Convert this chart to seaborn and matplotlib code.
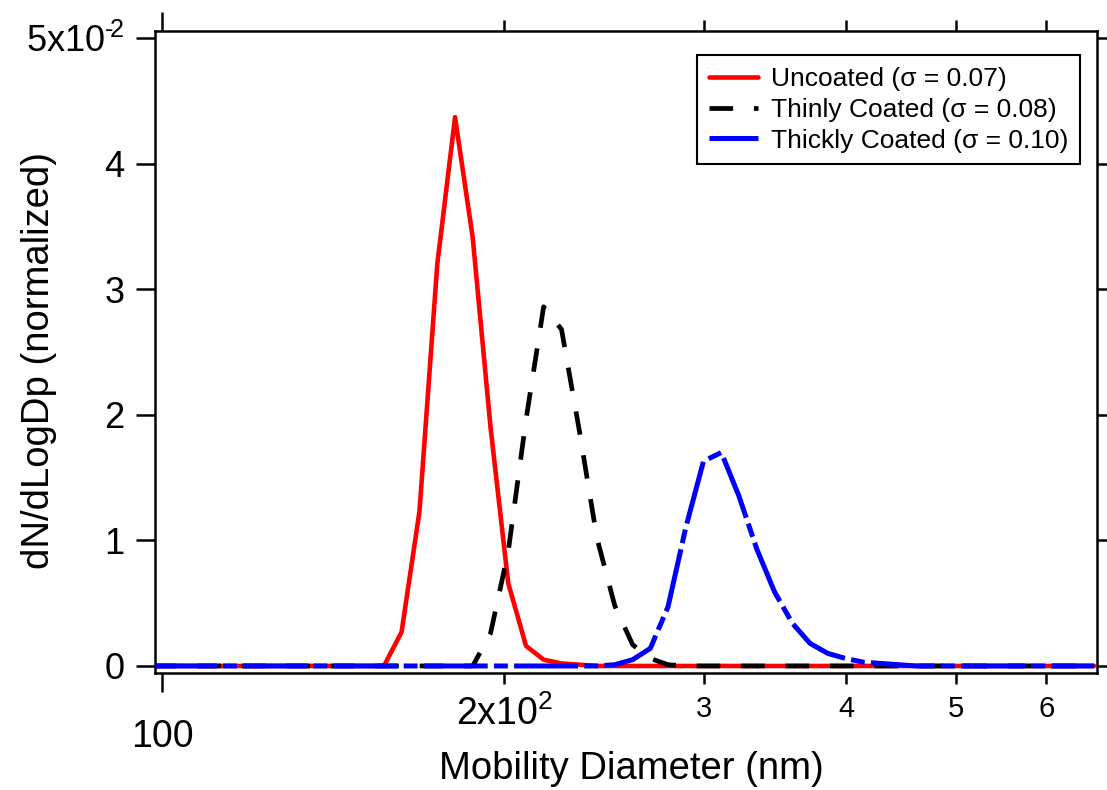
import matplotlib
matplotlib.use("Agg")
import matplotlib.pyplot as plt
import pandas as pd
import seaborn as sns
from matplotlib.ticker import FixedLocator, FixedFormatter

# ---------------- data ----------------
diameter_nm = [98.2, 101.8, 105.5, 109.4, 113.4, 117.6, 121.9, 126.3, 131.0, 135.8,
               140.7, 145.9, 151.2, 156.8, 162.5, 168.5, 174.7, 181.1, 187.7, 194.6,
               201.7, 209.1, 216.7, 224.7, 232.9, 241.4, 250.3, 259.5, 269.0, 278.8,
               289.0, 299.6, 310.6, 322.0, 333.8, 346.0, 358.7, 371.8, 385.4, 399.5,
               414.2, 429.4, 445.1, 461.4, 478.3, 495.8, 514.0, 532.8, 552.3, 572.5,
               593.5, 615.3, 637.8, 661.2]

uncoated = [0, 0, 0, 0, 0, 0, 0, 0, 0, 0,
            0, 0, 0, 0.0, 0.0027, 0.0123, 0.0320, 0.0437, 0.0341, 0.0190,
            0.0066, 0.0016, 0.0005, 0.0002, 0.0001, 0, 0, 0, 0, 0,
            0, 0, 0, 0, 0, 0, 0, 0, 0, 0,
            0, 0, 0, 0, 0, 0, 0, 0, 0, 0,
            0, 0, 0, 0]

thinly_coated = [0, 0, 0, 0, 0, 0, 0, 0, 0, 0,
                 0, 0, 0, 0, 0, 0, 0, 0, 0.0, 0.0026,
                 0.0091, 0.0196, 0.0286, 0.0268, 0.0188, 0.0102, 0.0048, 0.0017, 0.0006, 0.0001,
                 0, 0, 0, 0, 0, 0, 0, 0, 0, 0,
                 0, 0, 0, 0, 0, 0, 0, 0, 0, 0,
                 0, 0, 0, 0]

thickly_coated = [0, 0, 0, 0, 0, 0, 0, 0, 0, 0,
                  0, 0, 0, 0, 0, 0, 0, 0, 0, 0,
                  0, 0, 0, 0, 0, 0, 0.0001, 0.0005, 0.0014, 0.0047,
                  0.0110, 0.0163, 0.0170, 0.0135, 0.0093, 0.0059, 0.0034, 0.0018, 0.0010, 0.0006,
                  0.0003, 0.0002, 0.0001, 0, 0, 0, 0, 0, 0, 0,
                  0, 0, 0, 0]

series_labels = ["Uncoated (\u03c3 = 0.07)",
                 "Thinly Coated (\u03c3 = 0.08)",
                 "Thickly Coated (\u03c3 = 0.10)"]

y_ticks = [0.0, 0.01, 0.02, 0.03, 0.04, 0.05]
y_tick_labels = ["0", "1", "2", "3", "4", "5x10$^{\u2010\\!2}$"]
x_major_ticks = [100]
x_major_labels = ["100"]
x_minor_ticks = [200, 300, 400, 500, 600]
x_minor_labels = [r"2x10$^{2}$", "3", "4", "5", "6"]

# ---------------- style ----------------
sns.set_style("ticks")
plt.rcParams["font.family"] = ["Liberation Sans", "DejaVu Sans"]
plt.rcParams["mathtext.fontset"] = "custom"
plt.rcParams["mathtext.rm"] = "Liberation Sans"
plt.rcParams["mathtext.it"] = "Liberation Sans:italic"
plt.rcParams["mathtext.bf"] = "Liberation Sans:bold"
plt.rcParams["lines.scale_dashes"] = False
plt.rcParams["text.color"] = "black"
plt.rcParams["axes.labelcolor"] = "black"

fig = plt.figure(figsize=(11.07, 7.90), dpi=100)
ax = fig.add_axes([155 / 1107, 117 / 790, 942 / 1107, 642 / 790])

df = pd.DataFrame({
    "Dp": diameter_nm * 3,
    "value": uncoated + thinly_coated + thickly_coated,
    "series": [series_labels[0]] * len(diameter_nm)
              + [series_labels[1]] * len(diameter_nm)
              + [series_labels[2]] * len(diameter_nm),
})

styles = [
    dict(color="#ff0000", linestyle="-", linewidth=3.3, zorder=2),
    dict(color="black", linestyle=(0, (17, 15)), linewidth=3.4, zorder=3),
    dict(color="#0000ff", linestyle=(0, (46, 4.5, 10, 4.5)), linewidth=3.6, zorder=4),
]
for lab, st in zip(series_labels, styles):
    sub = df[df["series"] == lab]
    sns.lineplot(data=sub, x="Dp", y="value", ax=ax, label=lab, **st)

ax.set_xscale("log")
ax.set_xlim(98.6, 665)
ax.set_ylim(-0.00056, 0.05056)

ax.xaxis.set_major_locator(FixedLocator(x_major_ticks))
ax.xaxis.set_major_formatter(FixedFormatter(x_major_labels))
ax.xaxis.set_minor_locator(FixedLocator(x_minor_ticks))
ax.xaxis.set_minor_formatter(FixedFormatter(x_minor_labels))
ax.yaxis.set_major_locator(FixedLocator(y_ticks))
ax.yaxis.set_major_formatter(FixedFormatter(y_tick_labels))

for s in ax.spines.values():
    s.set_visible(True)
    s.set_linewidth(1.8)
    s.set_color("black")

ax.tick_params(axis="x", which="major", direction="out", length=14, width=1.8,
               pad=19, labelsize=27, top=True, bottom=True, colors="black")
ax.tick_params(axis="x", which="minor", direction="out", length=8, width=1.8,
               pad=8, labelsize=21, top=True, bottom=True, colors="black")
ax.tick_params(axis="y", which="major", direction="out", length=14, width=1.8,
               pad=8, labelsize=26, left=True, right=True, colors="black")
ax.tick_params(axis="y", which="minor", left=False, right=False)

minor_ticks = ax.xaxis.get_minor_ticks()
minor_ticks[0].label1.set_fontsize(27)

ax.set_xlabel("Mobility Diameter (nm)", fontsize=27.5, color="black")
ax.set_ylabel("dN/dLogDp (normalized)", fontsize=27.5, color="black")
ax.xaxis.set_label_coords(0.506, -0.122)
ax.yaxis.set_label_coords(-0.104, 0.4875)

leg = ax.legend(loc="upper right", bbox_to_anchor=(0.982, 0.9626), borderaxespad=0,
                fontsize=19, handlelength=1.86, handletextpad=0.5, labelspacing=0.26,
                borderpad=0.45, frameon=True, fancybox=False, framealpha=1,
                edgecolor="black")
leg.get_frame().set_linewidth(1.5)

fig.savefig("out.png", dpi=100)
